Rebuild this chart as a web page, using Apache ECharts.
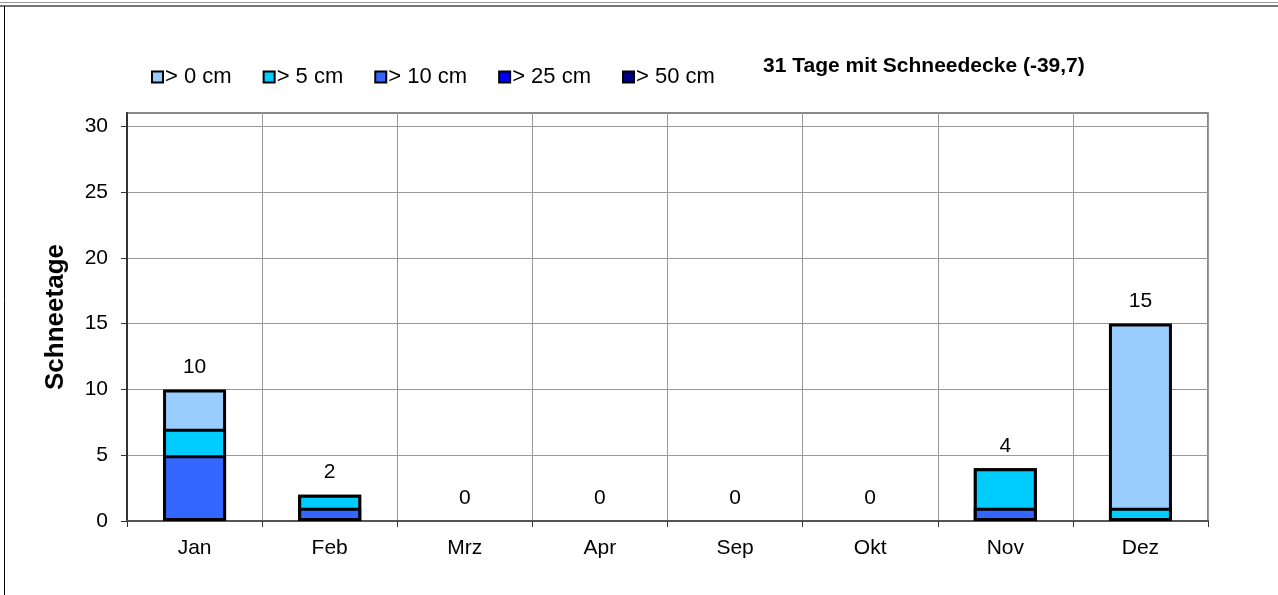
<!DOCTYPE html>
<html><head><meta charset="utf-8">
<script src="https://cdn.jsdelivr.net/npm/echarts@6/dist/echarts.min.js"></script>
<style>html,body{margin:0;padding:0;background:#fff}#c{width:1278px;height:595px}</style>
</head><body><div id="c"></div>
<script>
const months = ['Jan','Feb','Mrz','Apr','Sep','Okt','Nov','Dez'];
const seriesNames = ['> 0 cm','> 5 cm','> 10 cm','> 25 cm','> 50 cm'];
const gt0  = [10, 2, 0, 0, 0, 0, 4, 15];
const gt5  = [7, 2, 0, 0, 0, 0, 4, 1];
const gt10 = [5, 1, 0, 0, 0, 0, 1, 0];
const gt25 = [0, 0, 0, 0, 0, 0, 0, 0];
const gt50 = [0, 0, 0, 0, 0, 0, 0, 0];
const colors = ['#99CCFF','#00CCFF','#3366FF','#0000FF','#000080'];
const yTicks = [0, 5, 10, 15, 20, 25, 30];
const titleText = '31 Tage mit Schneedecke (-39,7)';
const yName = 'Schneetage';

const FONT = '"Liberation Sans", Arial, sans-serif';
const allData = [gt0, gt5, gt10, gt25, gt50];

const series = allData.map((arr, i) => ({
  name: seriesNames[i],
  type: 'bar',
  barWidth: 63,
  barGap: '-100%',
  z: 2 + i,
  itemStyle: { color: colors[i], borderColor: '#000', borderWidth: 3 },
  data: arr.map(v => v === 0 ? { value: v, itemStyle: { borderWidth: 0 } } : v),
  label: i === 0 ? { show: true, position: 'top', distance: 12, color: '#000', fontSize: 21, fontFamily: FONT } : { show: false },
  emphasis: { disabled: true },
  animation: false
}));

const chart = echarts.init(document.getElementById('c'), null, { renderer: 'canvas' });
chart.setOption({
  animation: false,
  textStyle: { fontFamily: FONT },
  color: colors,
  legend: {
    left: 146, top: 61,
    itemWidth: 11, itemHeight: 11, itemGap: 31,
    icon: 'rect',
    itemStyle: { borderColor: '#000', borderWidth: 2 },
    textStyle: { fontSize: 22, color: '#000', fontFamily: FONT, padding: [0,0,0,-3] },
    data: seriesNames
  },
  graphic: [
    { type: 'text', left: 763, top: 56, style: { text: titleText, font: 'bold 21px ' + FONT, fill: '#000' } },
    { type: 'line', shape: { x1: 0, y1: 2.5, x2: 1278, y2: 2.5 }, style: { stroke: '#999', lineWidth: 1 } },
    { type: 'line', shape: { x1: 0, y1: 6, x2: 1278, y2: 6 }, style: { stroke: '#777', lineWidth: 2 } },
    { type: 'line', shape: { x1: 4.5, y1: 6, x2: 4.5, y2: 595 }, style: { stroke: '#000', lineWidth: 1 } }
  ],
  grid: {
    left: 127, right: 70, top: 113, bottom: 74,
    show: true, borderColor: '#888', borderWidth: 2, backgroundColor: '#fff'
  },
  xAxis: {
    type: 'category',
    data: months,
    boundaryGap: true,
    axisLine: { lineStyle: { color: '#555', width: 2 } },
    axisTick: { show: true, length: 6, lineStyle: { color: '#333' } },
    axisLabel: { fontSize: 21, color: '#000', margin: 17, fontFamily: FONT },
    splitLine: { show: true, lineStyle: { color: '#999', width: 1 } }
  },
  yAxis: {
    type: 'value',
    min: 0, max: 31, interval: 5,
    name: yName,
    nameLocation: 'middle',
    nameGap: 58,
    nameTextStyle: { fontSize: 26, fontWeight: 'bold', color: '#000', fontFamily: FONT },
    axisLine: { show: true, lineStyle: { color: '#333', width: 2 } },
    axisTick: { show: true, length: 6, customValues: yTicks, lineStyle: { color: '#333' } },
    axisLabel: { fontSize: 21, color: '#000', margin: 19, customValues: yTicks, fontFamily: FONT },
    splitLine: { show: true, lineStyle: { color: '#999', width: 1 } }
  },
  series: series
});
</script>
</body></html>
